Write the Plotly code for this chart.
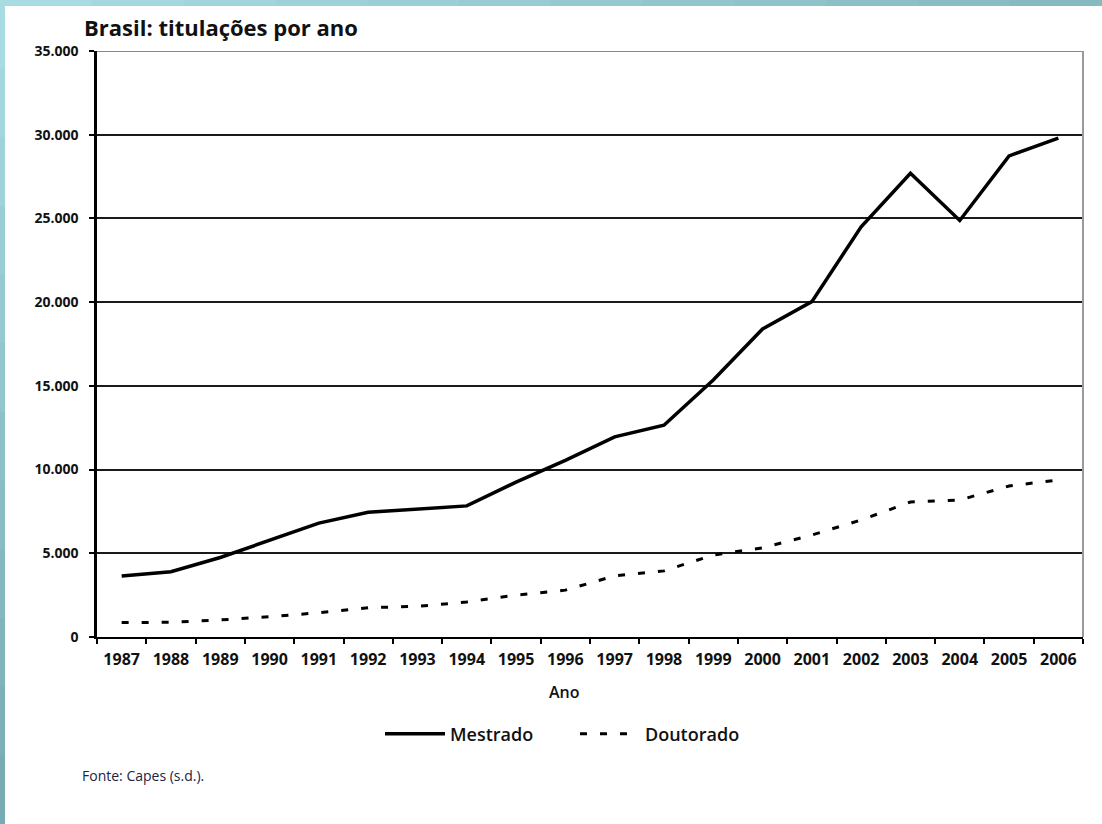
import plotly.graph_objects as go

anos = [str(a) for a in range(1987, 2007)]
mestrado = [3650, 3900, 4750, 5800, 6800, 7450, 7650, 7830, 9250, 10550,
            11950, 12650, 15350, 18400, 20030, 24500, 27700, 24880, 28730, 29800]
doutorado = [860, 880, 1020, 1210, 1450, 1750, 1830, 2090, 2500, 2800,
             3650, 3950, 4900, 5320, 6090, 6990, 8060, 8180, 9020, 9380]
y_ticks = [0, 5000, 10000, 15000, 20000, 25000, 30000, 35000]

W, H = 1102, 824
L, R, T, B = 97, 19, 51, 187
PW, PH = W - L - R, H - T - B

def px(xp):
    return (xp - L) / PW

def py(yp):
    return (H - B - yp) / PH

fig = go.Figure()
fig.add_trace(go.Scatter(x=anos, y=mestrado, name="Mestrado", mode="lines",
                         line=dict(color="black", width=3.5)))
fig.add_trace(go.Scatter(x=anos, y=doutorado, name="Doutorado", mode="lines",
                         line=dict(color="black", width=3, dash="7px,13px")))

shapes = []
n = 12
for i in range(n):
    t = i / (n - 1)
    c0 = (168, 219, 226)
    c1 = (120, 172, 179)
    c2 = (135, 185, 192)
    colL = "rgb(%d,%d,%d)" % tuple(int(c0[k] + (c1[k] - c0[k]) * t) for k in range(3))
    colT = "rgb(%d,%d,%d)" % tuple(int(c0[k] + (c2[k] - c0[k]) * t) for k in range(3))
    shapes.append(dict(type="rect", xref="paper", yref="paper", layer="above",
                       x0=px(0), x1=px(5), y0=py(i * H / n), y1=py((i + 1) * H / n + 1),
                       fillcolor=colL, line=dict(width=0)))
    shapes.append(dict(type="rect", xref="paper", yref="paper", layer="above",
                       x0=px(i * W / n), x1=px((i + 1) * W / n + 1), y0=py(0), y1=py(6),
                       fillcolor=colT, line=dict(width=0)))
shapes.append(dict(type="line", xref="paper", yref="y", x0=0, x1=1, y0=35000, y1=35000,
                   line=dict(color="#8a8a8a", width=2)))
shapes.append(dict(type="line", xref="paper", yref="paper", x0=1, x1=1, y0=0, y1=1,
                   line=dict(color="#9a9a9a", width=2)))

fig.update_layout(
    width=W, height=H,
    margin=dict(l=L, r=R, t=T, b=B, autoexpand=False),
    paper_bgcolor="white", plot_bgcolor="white",
    separators=",.",
    font=dict(family="Open Sans", color="#111111"),
    title=dict(text="<b>Brasil: titulações por ano</b>", xref="container", yref="container",
               x=84 / W, xanchor="left", y=1 - 28 / H, yanchor="middle",
               font=dict(size=22, color="#111111", family="Open Sans")),
    showlegend=True,
    legend=dict(orientation="h", x=px(380), xanchor="left", y=py(734), yanchor="middle",
                font=dict(size=18, color="#111111", family="Open Sans", weight=600),
                itemwidth=60, entrywidth=120, bgcolor="rgba(0,0,0,0)"),
    shapes=shapes,
    annotations=[
        dict(text="Ano", xref="paper", yref="paper", x=px(564), y=py(692),
             xanchor="center", yanchor="middle", showarrow=False,
             font=dict(size=16, color="#111111", family="Open Sans", weight=600)),
        dict(text="Fonte: Capes (s.d.).", xref="paper", yref="paper", x=px(80), y=py(775),
             xanchor="left", yanchor="middle", showarrow=False,
             font=dict(size=14, color="#222244", family="Open Sans")),
    ],
)

fig.update_xaxes(
    type="category", range=[-0.5, 19.5], showgrid=False, zeroline=False,
    showline=True, linecolor="black", linewidth=2, automargin=False,
    ticks="outside", tickson="boundaries", ticklen=5, tickwidth=1.5, tickcolor="black",
    tickfont=dict(size=16, color="#111111", family="Open Sans", weight="bold"),
    ticklabelstandoff=7,
)
fig.update_yaxes(
    range=[0, 35000], tickvals=y_ticks, tickformat=",d", automargin=False,
    showgrid=True, gridcolor="#1a1a1a", gridwidth=1.5, zeroline=False,
    showline=True, linecolor="black", linewidth=2.5,
    ticks="outside", ticklen=5, tickwidth=1.5, tickcolor="black",
    tickfont=dict(size=14, color="#111111", family="Open Sans", weight="bold"),
    ticklabelstandoff=8,
)

fig.write_html("out.html", config={"displayModeBar": False},
               post_script="document.body.style.margin='0';document.body.style.overflow='hidden';")
